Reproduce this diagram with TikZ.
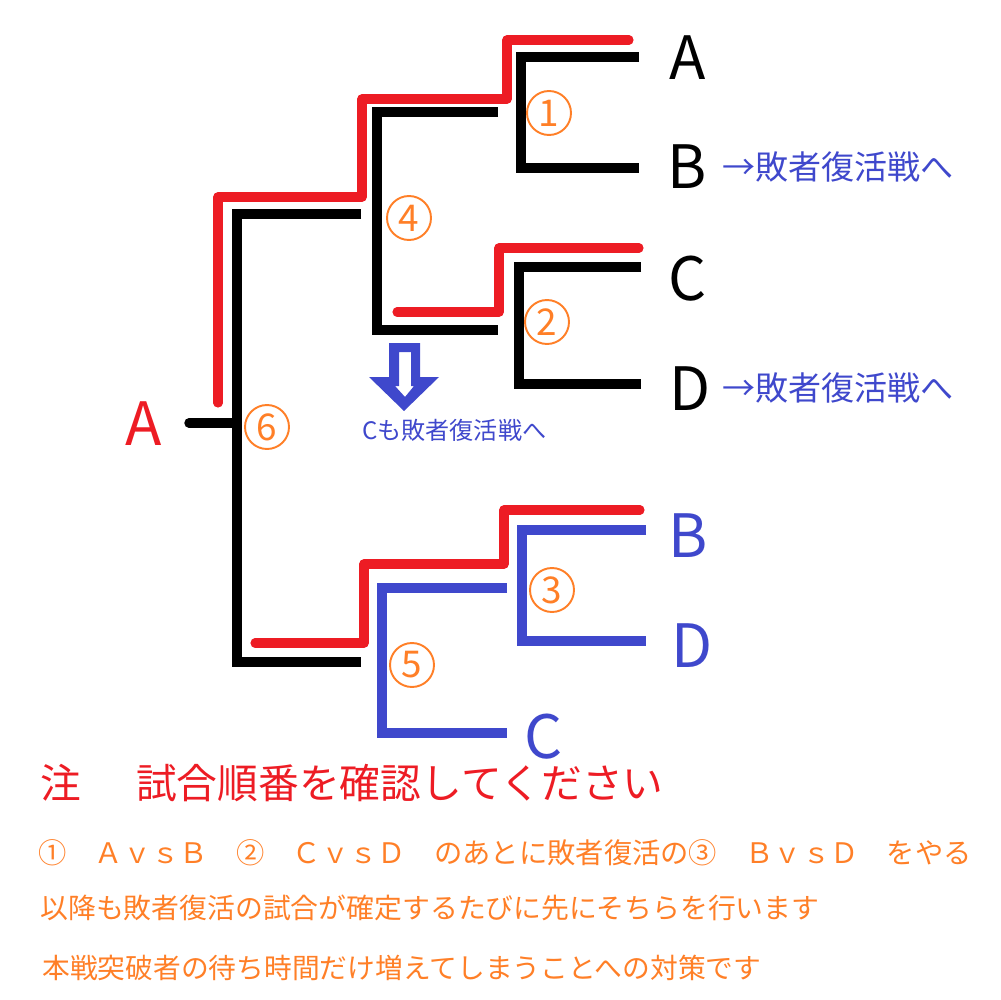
\documentclass[tikz,border=0pt]{standalone}
\usepackage{fontspec}
\setmainfont{Noto Sans CJK JP}
\usetikzlibrary{positioning}
\definecolor{tred}{HTML}{ED1C24}
\definecolor{tblue}{HTML}{3F48CC}
\definecolor{torange}{HTML}{FF7F27}

\begin{document}
\begin{tikzpicture}[x=0.02cm,y=-0.02cm,
  bar/.style={line width=5.4pt},
  lost/.style={bar, draw=tblue},
  win/.style={line width=5.2pt, draw=tred, line cap=round, line join=round},
  num/.style={circle, draw=torange, line width=1.1pt, text=torange,
    minimum size=0.88cm, inner sep=0pt, font=\fontsize{21}{21}\selectfont},
  lbl/.style={inner sep=0pt, anchor=base, font=\fontsize{34}{34}\selectfont},
  note/.style={inner sep=0pt, anchor=base west, text=tblue,
    font=\fontsize{18.8}{20}\selectfont},
  memo/.style={inner sep=0pt, anchor=base west, text=torange,
    font=\fontsize{16.1}{17}\selectfont}]

  \useasboundingbox (0,0) rectangle (1000,1000);

  % Slots
  \coordinate (sA) at (639,57);
  \coordinate (sB) at (639,168);
  \coordinate (sC) at (641,267);
  \coordinate (sD) at (641,384);
  \coordinate (w1) at (498,112);
  \coordinate (w2) at (498,330);
  \coordinate (f1) at (361,214);
  \coordinate (f2) at (361,662);
  \coordinate (root) at (189,423);
  \coordinate (rB) at (646,530);
  \coordinate (rD) at (646,641);
  \coordinate (r3) at (507,588);
  \coordinate (rC) at (507,733);

  % Brackets
  \draw[bar] (sA) -- ++(-118,0) |- (sB);
  \draw[bar] (sC) -- ++(-122,0) |- (sD);
  \draw[bar] (w1) -- ++(-121,0) |- (w2);
  \draw[bar] (f1) -- ++(-124,0) |- (f2);
  \draw[bar, line cap=round] (root) -- ++(48,0);
  \draw[lost] (rB) -- ++(-124,0) |- (rD);
  \draw[lost] (r3) -- ++(-125,0) |- (rC);

  % Winners
  \draw[win] (218,403) |- (362,197) |- (507,99) |- (629,40);
  \draw[win] (397,312) -| (499,248) -- (639,248);
  \draw[win] (255,643) -| (364,564) -| (504,510) -- (640,510);

  % Match numbers
  \node[num] (n1) at (549,113) {1};
  \node[num] (n2) at (547,322) {2};
  \node[num] (n3) at (552,590) {3};
  \node[num] (n4) at (409,218) {4};
  \node[num] (n5) at (412,665) {5};
  \node[num] (n6) at (267,427) {6};

  % Players
  \node[lbl] (A1) at (688,80) {A};
  \node[lbl] (B1) at (687,189) {B};
  \node[lbl] (C1) at (688,300) {C};
  \node[lbl] (D1) at (690,410) {D};
  \node[lbl, text=tblue] (B2) at (688,557) {B};
  \node[lbl, text=tblue] (D2) at (692,667) {D};
  \node[lbl, text=tblue] (C2) at (544,758) {C};
  \node[lbl, text=tred] (A0) at (144,445) {A};

  % Losers
  \node[note] (lb) at (722,180) {→敗者復活戦へ};
  \node[note] (ld) at (722,400) {→敗者復活戦へ};
  \fill[tblue, even odd rule] (389,343) -- (420,343) -- (420,377) -- (439,377)
    -- (404,411) -- (369,377) -- (389,377) -- cycle
    (399,352) -- (411,352) -- (411,386) -- (414,386) -- (405,397)
    -- (395,386) -- (399,386) -- cycle;
  \node[note, font=\fontsize{13.7}{15}\selectfont] (lc) at (362,439) {Cも敗者復活戦へ};

  % Memo
  \node[memo, text=tred, font=\fontsize{23.2}{24}\selectfont] (hd) at (40,798)
    {注\hspace{1.35em}試合順番を確認してください};
  \node[memo] (m1) at (38,863) {①　ＡｖｓＢ　②　ＣｖｓＤ　のあとに敗者復活の③　ＢｖｓＤ　をやる};
  \node[memo, font=\fontsize{15.85}{17}\selectfont] (m2) at (40,918)
    {以降も敗者復活の試合が確定するたびに先にそちらを行います};
  \node[memo, font=\fontsize{15.8}{17}\selectfont] (m3) at (42,978)
    {本戦突破者の待ち時間だけ増えてしまうことへの対策です};

\end{tikzpicture}
\end{document}
